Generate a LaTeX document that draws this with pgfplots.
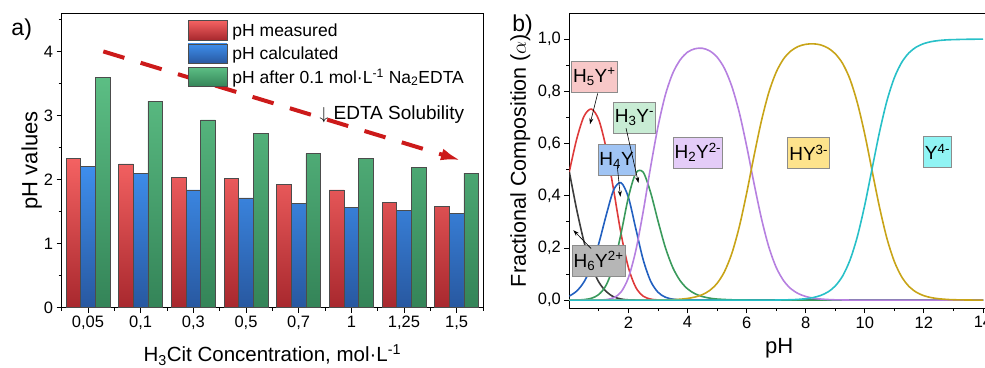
\documentclass[border=0pt]{standalone}
\usepackage{pgfplots}
\pgfplotsset{compat=1.18}
\usepackage{fontspec}
\setmainfont{Liberation Sans}
\usetikzlibrary{arrows.meta}
\definecolor{rtop}{RGB}{244,98,98}
\definecolor{rbot}{RGB}{168,40,46}
\definecolor{btop}{RGB}{62,142,236}
\definecolor{bbot}{RGB}{40,88,160}
\definecolor{gtop}{RGB}{92,190,132}
\definecolor{gbot}{RGB}{52,132,88}
\definecolor{arr}{RGB}{204,26,26}
\definecolor{cH6}{RGB}{60,60,60}
\definecolor{cH5}{RGB}{222,58,58}
\definecolor{cH4}{RGB}{34,96,192}
\definecolor{cH3}{RGB}{58,154,92}
\definecolor{cH2}{RGB}{182,128,224}
\definecolor{cHY}{RGB}{200,164,24}
\definecolor{cY}{RGB}{40,192,200}
\definecolor{fH6}{RGB}{182,182,182}
\definecolor{fH5}{RGB}{248,200,200}
\definecolor{fH4}{RGB}{160,196,244}
\definecolor{fH3}{RGB}{200,236,212}
\definecolor{fH2}{RGB}{228,204,248}
\definecolor{fHY}{RGB}{253,227,140}
\definecolor{fY}{RGB}{144,244,244}
\newcommand{\fs}[1]{\fontsize{#1}{#1}\selectfont}
\pgfplotsset{
  common/.style={
    scale only axis, anchor=south west,
    tick align=outside, xtick pos=left, ytick pos=left,
    major tick length=5pt, minor tick length=3pt,
    tick style={black, line width=0.9pt},
    axis line style={line width=0.9pt},
    tick label style={font=\fs{16.5}},
    /pgf/number format/assume math mode=true,
    label style={font=\fs{20.5}},
  },
}
\tikzset{spec/.style={draw=black!45, line width=0.7pt, fill=#1, minimum height=31pt, inner xsep=1.5pt, inner ysep=0pt, font=\fs{19}}}
\begin{document}
\begin{tikzpicture}[x=1pt,y=1pt]
\begin{axis}[common,
  at={(61.7pt,59.3pt)}, width=421.3pt, height=294.7pt,
  xmin=-0.5, xmax=7.5, ymin=0, ymax=4.6,
  xtick={0,1,2,3,4,5,6,7},
  xticklabels={{0,05},{0,1},{0,3},{0,5},{0,7},{1},{1,25},{1,5}},
  minor xtick={-0.5,0.5,1.5,2.5,3.5,4.5,5.5,6.5,7.5},
  ytick={0,1,2,3,4}, minor ytick={0.5,1.5,2.5,3.5,4.5},
  xlabel={H\textsubscript{3}Cit Concentration, mol·L\textsuperscript{-1}},
  ylabel={pH values},
  xlabel style={at={(axis description cs:0.5,-0.16)}, anchor=center},
  ylabel style={at={(axis description cs:-0.071,0.5)}, anchor=center, font=\fs{22}},
  legend style={at={(axis description cs:0.299,0.976)}, anchor=north west, draw=none, fill=none,
    font=\fs{17.5}, row sep=3.5pt, inner sep=0pt, nodes={inner sep=0pt, text height=15.6pt, text depth=3pt},
    /tikz/every odd column/.append style={column sep=5pt}},
  legend cell align=left,
]
\addlegendimage{legend image code/.code={\shade[top color=rtop,bottom color=rbot,draw=black!70,line width=0.6pt] (0pt,-9.65pt) rectangle (39pt,9.65pt);}}
\addlegendentry{pH measured}
\addlegendimage{legend image code/.code={\shade[top color=btop,bottom color=bbot,draw=black!70,line width=0.6pt] (0pt,-9.65pt) rectangle (39pt,9.65pt);}}
\addlegendentry{pH calculated}
\addlegendimage{legend image code/.code={\shade[top color=gtop,bottom color=gbot,draw=black!70,line width=0.6pt] (0pt,-9.65pt) rectangle (39pt,9.65pt);}}
\addlegendentry{pH after 0.1 mol·L\textsuperscript{-1} Na\textsubscript{2}EDTA}
\addplot[forget plot, ybar, bar width=14.6pt, bar shift=-14.6pt, top color=rtop, bottom color=rbot, draw=black!70, line width=0.6pt]
  coordinates {(0,2.33) (1,2.245) (2,2.035) (3,2.015) (4,1.925) (5,1.84) (6,1.64) (7,1.585)};
\addplot[forget plot, ybar, bar width=14.6pt, bar shift=0pt, top color=btop, bottom color=bbot, draw=black!70, line width=0.6pt]
  coordinates {(0,2.20) (1,2.10) (2,1.84) (3,1.715) (4,1.63) (5,1.565) (6,1.515) (7,1.475)};
\addplot[forget plot, ybar, bar width=14.6pt, bar shift=14.6pt, top color=gtop, bottom color=gbot, draw=black!70, line width=0.6pt]
  coordinates {(0,3.60) (1,3.225) (2,2.93) (3,2.725) (4,2.405) (5,2.335) (6,2.195) (7,2.10)};
\draw[arr, line width=4pt, dash pattern=on 22pt off 17pt, -{Latex[length=20pt,width=12pt]}]
  (axis cs:0.29,4.0) -- (axis cs:7.08,2.30);
\node[anchor=base east, font=\fs{19}] at (axis cs:7.21,2.94) {$\downarrow$ EDTA Solubility};
\end{axis}

\begin{axis}[common,
  at={(569.3pt,59pt)}, width=419.6pt, height=295pt,
  xmin=0, xmax=14.2, ymin=-0.03, ymax=1.1,
  xtick={2,4,6,8,10,12,14}, minor xtick={1,3,5,7,9,11,13},
  ytick={0,0.2,0.4,0.6,0.8,1}, minor ytick={0.1,0.3,0.5,0.7,0.9},
  yticklabel style={/pgf/number format/.cd, fixed, fixed zerofill, precision=1, use comma},
  xlabel={pH}, ylabel={Fractional Composition ($\alpha$)},
  xlabel style={at={(axis description cs:0.5,-0.136)}, anchor=center, font=\fs{22}},
  ylabel style={at={(axis description cs:-0.117,0.5)}, anchor=center, font=\fs{21.5}},
  every axis plot/.append style={line width=1.6pt, smooth},
]
\addplot[cH6] coordinates {(0,0.492) (0.25,0.347) (0.5,0.223) (0.75,0.130) (1,0.069) (1.25,0.033) (1.5,0.013) (1.75,0.0045) (2,0.0012) (2.5,0) (3,0) (14,0)};
\addplot[cH5] coordinates {(0,0.492) (0.25,0.617) (0.5,0.705) (0.75,0.732) (1,0.690) (1.25,0.580) (1.5,0.422) (1.75,0.255) (2,0.125) (2.25,0.049) (2.5,0.0155) (2.75,0.0041) (3,0.001) (3.5,0) (4,0) (14,0)};
\addplot[cH4] coordinates {(0,0.0156) (0.25,0.0347) (0.5,0.0705) (0.75,0.130) (1,0.218) (1.25,0.326) (1.5,0.422) (1.75,0.450) (2,0.394) (2.25,0.274) (2.5,0.155) (2.75,0.0735) (3,0.0304) (3.25,0.0114) (3.5,0.004) (3.75,0.0013) (4,0) (4.5,0) (14,0)};
\addplot[cH3] coordinates {(0,0.0002) (0.25,0.0006) (0.5,0.0022) (0.75,0.0073) (1,0.0218) (1.25,0.058) (1.5,0.133) (1.75,0.255) (2,0.394) (2.25,0.487) (2.5,0.490) (2.75,0.413) (3,0.304) (3.25,0.202) (3.5,0.1255) (3.75,0.0748) (4,0.0434) (4.25,0.0248) (4.5,0.014) (4.75,0.0078) (5,0.0043) (5.5,0.0014) (6,0.0005) (6.5,0) (7,0) (14,0)};
\addplot[cH2] coordinates {(0,0) (0.5,0) (0.75,0.0001) (1,0.0005) (1.25,0.0023) (1.5,0.0092) (1.75,0.031) (2,0.086) (2.25,0.190) (2.5,0.339) (2.75,0.509) (3,0.664) (3.25,0.786) (3.5,0.869) (3.75,0.920) (4,0.950) (4.25,0.963) (4.5,0.965) (4.75,0.955) (5,0.931) (5.25,0.888) (5.5,0.819) (5.75,0.720) (6,0.591) (6.25,0.448) (6.5,0.314) (6.75,0.2045) (7,0.126) (7.25,0.0751) (7.5,0.0436) (7.75,0.025) (8,0.0142) (8.25,0.008) (8.5,0.0045) (8.75,0.0025) (9,0.0013) (9.5,0.0004) (10,0) (10.5,0) (14,0)};
\addplot[cHY] coordinates {(0,0) (2.5,0) (3,0.0005) (3.5,0.0019) (3.75,0.0036) (4,0.0066) (4.25,0.0119) (4.5,0.021) (4.75,0.0372) (5,0.0644) (5.25,0.109) (5.5,0.179) (5.75,0.280) (6,0.409) (6.25,0.552) (6.5,0.686) (6.75,0.795) (7,0.873) (7.25,0.924) (7.5,0.9546) (7.75,0.972) (8,0.980) (8.25,0.982) (8.5,0.978) (8.75,0.966) (9,0.944) (9.25,0.9065) (9.5,0.846) (9.75,0.755) (10,0.635) (10.25,0.494) (10.5,0.355) (10.75,0.236) (11,0.148) (11.25,0.089) (11.5,0.052) (11.75,0.030) (12,0.0171) (12.25,0.0097) (12.5,0.0055) (12.75,0.0031) (13,0.0017) (13.5,0.0006) (14,0.0002)};
\addplot[cY] coordinates {(0,0) (6,0) (6.5,0) (7,0.0005) (7.5,0.0017) (7.75,0.0031) (8,0.0056) (8.25,0.0100) (8.5,0.0178) (8.75,0.0313) (9,0.0543) (9.25,0.0927) (9.5,0.154) (9.75,0.2444) (10,0.365) (10.25,0.5057) (10.5,0.645) (10.75,0.764) (11,0.852) (11.25,0.911) (11.5,0.948) (11.75,0.970) (12,0.983) (12.25,0.9903) (12.5,0.9945) (12.75,0.9969) (13,0.998) (13.5,0.9994) (14,0.9998)};
\node[spec=fH5] at (axis cs:0.847,0.856) {H\textsubscript{5}Y\textsuperscript{+}};
\node[spec=fH3] at (axis cs:2.203,0.700) {H\textsubscript{3}Y\textsuperscript{-}};
\node[spec=fH4] at (axis cs:1.60,0.536) {H\textsubscript{4}Y};
\node[spec=fH2] at (axis cs:4.35,0.566) {H\textsubscript{2}Y\textsuperscript{2-}};
\node[spec=fHY] at (axis cs:8.10,0.564) {HY\textsuperscript{3-}};
\node[spec=fY] at (axis cs:12.46,0.567) {Y\textsuperscript{4-}};
\node[spec=fH6] at (axis cs:0.99,0.150) {H\textsubscript{6}Y\textsuperscript{2+}};
\begin{scope}[black, line width=0.6pt, -{Stealth[length=6pt,width=4pt]}]
\draw (axis cs:0.96,0.792) -- (axis cs:0.70,0.674);
\draw (axis cs:1.92,0.659) -- (axis cs:2.34,0.449);
\draw (axis cs:1.62,0.517) -- (axis cs:1.73,0.396);
\draw (axis cs:0.736,0.198) -- (axis cs:0.136,0.268);
\end{scope}
\end{axis}
\node[font=\fs{23}] at (21.7,337) {a)};
\node[font=\fs{23}] at (522.5,341) {b)};
\pgfresetboundingbox
\path[use as bounding box] (0,0) rectangle (985,367);
\end{tikzpicture}
\end{document}
